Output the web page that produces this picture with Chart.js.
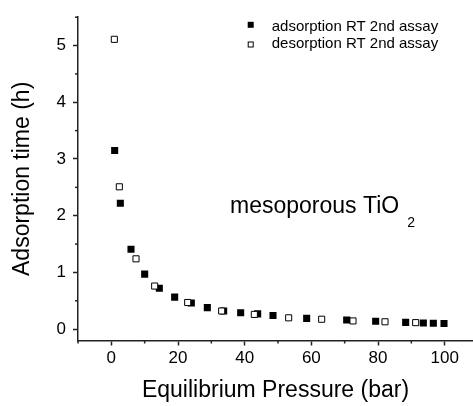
<!DOCTYPE html>
<html><head><meta charset="utf-8">
<script src="https://cdn.jsdelivr.net/npm/chart.js@4"></script>
<style>html,body{margin:0;padding:0;background:#fff;overflow:hidden}#wrap{width:473px;height:406px;position:relative}</style>
</head><body><div id="wrap"><canvas id="c"></canvas></div>
<script>
const adsorptionX = [1.0, 2.7, 5.9, 10.0, 14.4, 19.0, 24.0, 28.8, 33.7, 38.8, 43.9, 48.5, 58.6, 70.6, 79.3, 88.3, 93.6, 96.6, 99.8];
const adsorptionY = [3.15, 2.22, 1.41, 0.97, 0.72, 0.565, 0.46, 0.38, 0.32, 0.29, 0.27, 0.24, 0.19, 0.16, 0.14, 0.12, 0.11, 0.105, 0.10];
const desorptionX = [0.9, 2.4, 7.4, 13.0, 22.9, 33.1, 42.9, 53.2, 63.1, 72.5, 82.1, 91.3];
const desorptionY = [5.11, 2.51, 1.24, 0.76, 0.47, 0.32, 0.26, 0.20, 0.175, 0.145, 0.13, 0.115];
const xTickLabels = [0, 20, 40, 60, 80, 100];
const yTickLabels = [0, 1, 2, 3, 4, 5];
const seriesNames = ['adsorption RT 2nd assay', 'desorption RT 2nd assay'];
const annotationText = 'mesoporous TiO';
const annotationSub = '2';
const xTitle = 'Equilibrium Pressure (bar)';
const yTitle = 'Adsorption time (h)';

const FONT = "'Liberation Sans', Arial, sans-serif";
const AXIS = '#222';
Chart.defaults.font.family = FONT;
Chart.defaults.color = '#000';

function pts(xs, ys) { return xs.map((x, i) => ({x: x, y: ys[i]})); }

const extras = {
  id: 'extras',
  afterDraw(chart) {
    const ctx = chart.ctx;
    const xs = chart.scales.x, ys = chart.scales.y;
    ctx.save();
    ctx.strokeStyle = AXIS;
    ctx.lineWidth = 1.5;
    // minor ticks
    xs.ticks.forEach(t => {
      if (!xTickLabels.includes(t.value)) {
        const px = xs.getPixelForValue(t.value);
        ctx.beginPath(); ctx.moveTo(px, xs.top); ctx.lineTo(px, xs.top + 3); ctx.stroke();
      }
    });
    ys.ticks.forEach(t => {
      if (!yTickLabels.includes(t.value)) {
        const py = ys.getPixelForValue(t.value);
        ctx.beginPath(); ctx.moveTo(ys.right, py); ctx.lineTo(ys.right - 3, py); ctx.stroke();
      }
    });
    // legend
    const lx = 250.7, tx = 271.7;
    ctx.fillStyle = '#000';
    ctx.fillRect(lx - 3, 24.8 - 3, 6, 6);
    ctx.lineWidth = 1;
    ctx.strokeStyle = '#000';
    ctx.fillStyle = '#fff';
    ctx.fillRect(lx - 2.5, 44.5 - 2.5, 5, 5);
    ctx.strokeRect(lx - 2.5, 44.5 - 2.5, 5, 5);
    ctx.fillStyle = '#000';
    ctx.font = '15px ' + FONT;
    ctx.textBaseline = 'alphabetic';
    ctx.textAlign = 'left';
    ctx.fillText(seriesNames[0], tx, 30.7);
    ctx.fillText(seriesNames[1], tx, 48.3);
    // annotation
    ctx.font = '23px ' + FONT;
    ctx.fillText(annotationText, 230, 213.3);
    const w = ctx.measureText(annotationText).width;
    ctx.font = '14px ' + FONT;
    ctx.fillText(annotationSub, 230 + w + 8, 226.7);
    ctx.restore();
  }
};

new Chart(document.getElementById('c'), {
  type: 'scatter',
  data: {
    datasets: [
      {label: seriesNames[0], data: pts(adsorptionX, adsorptionY), pointStyle: 'rect', pointRadius: 5,
       backgroundColor: '#000', borderColor: '#000', borderWidth: 0, order: 2},
      {label: seriesNames[1], data: pts(desorptionX, desorptionY), pointStyle: 'rect', pointRadius: 4.3,
       backgroundColor: '#fff', borderColor: '#000', borderWidth: 1, order: 1}
    ]
  },
  options: {
    responsive: true, maintainAspectRatio: false, animation: false, devicePixelRatio: 1,
    layout: {autoPadding: false, padding: {top: 14.5, right: 0, left: 0, bottom: 0}},
    plugins: {legend: {display: false}, tooltip: {enabled: false}},
    scales: {
      x: {
        type: 'linear', min: -10, max: 108.5,
        afterFit: s => { s.height = 65.5; },
        ticks: {stepSize: 10, includeBounds: false, autoSkip: false, maxRotation: 0, padding: 3,
          font: {size: 17}, color: '#000',
          callback: v => xTickLabels.includes(v) ? String(v) : ''},
        grid: {drawOnChartArea: false, tickLength: 5, tickWidth: 1.5,
          tickColor: c => (c.tick && xTickLabels.includes(c.tick.value)) ? AXIS : 'rgba(0,0,0,0)'},
        border: {display: true, color: AXIS, width: 1.5},
        title: {display: true, text: xTitle, font: {size: 23}, color: '#000', padding: {top: 0, bottom: 2}}
      },
      y: {
        type: 'linear', min: -0.2, max: 5.5,
        afterFit: s => { s.width = 78; },
        ticks: {stepSize: 0.5, includeBounds: false, autoSkip: false, padding: 7,
          font: {size: 17}, color: '#000',
          callback: v => yTickLabels.includes(v) ? String(v) : ''},
        grid: {drawOnChartArea: false, tickLength: 5, tickWidth: 1.5,
          tickColor: c => (c.tick && yTickLabels.includes(c.tick.value)) ? AXIS : 'rgba(0,0,0,0)'},
        border: {display: true, color: AXIS, width: 1.5},
        title: {display: true, text: yTitle, font: {size: 23}, color: '#000', padding: {top: 9, bottom: 0}}
      }
    }
  },
  plugins: [extras]
});
</script></body></html>
